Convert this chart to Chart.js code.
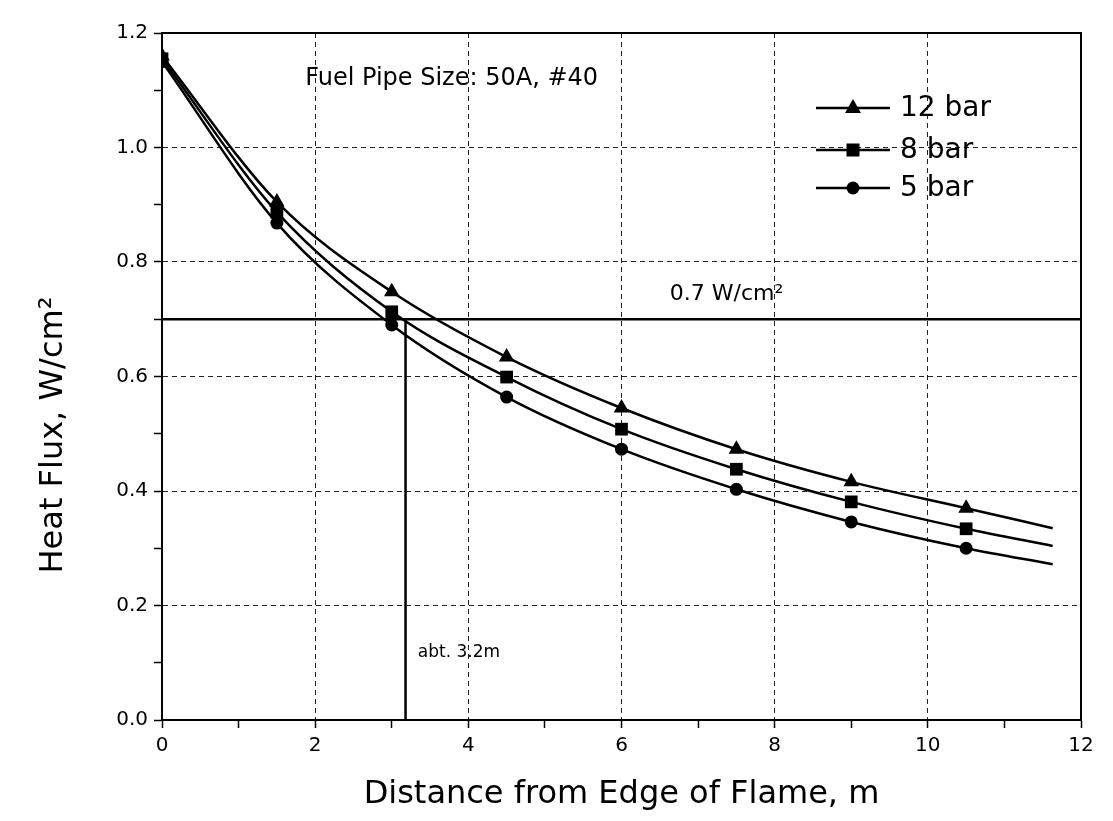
<!DOCTYPE html>
<html>
<head>
<meta charset="utf-8">
<script src="https://cdn.jsdelivr.net/npm/chart.js@4/dist/chart.umd.min.js"></script>
<style>
  html, body { margin: 0; padding: 0; background: #fff; }
  #wrap { width: 1113px; height: 821px; position: relative; }
</style>
</head>
<body>
<div id="wrap"><canvas id="chart"></canvas></div>
<script>
// distances along the flame axis (m); last entry is where the fitted curves end
const distances = [0, 1.5, 3, 4.5, 6, 7.5, 9, 10.5, 11.63];
const flux12bar = [1.16, 0.905, 0.748, 0.634, 0.545, 0.473, 0.416, 0.370, 0.335];
const flux8bar  = [1.155, 0.887, 0.713, 0.599, 0.508, 0.438, 0.381, 0.334, 0.304];
const flux5bar  = [1.15, 0.868, 0.690, 0.564, 0.473, 0.403, 0.346, 0.300, 0.272];
const seriesLabels = ['12 bar', '8 bar', '5 bar'];

const limitFlux = 0.7;      // W/cm2 threshold
const limitDistance = 3.18; // where 5 bar curve crosses it
const xTicks = [0, 2, 4, 6, 8, 10, 12];
const yTicks = [0.0, 0.2, 0.4, 0.6, 0.8, 1.0, 1.2];

const FONT = '"DejaVu Sans", Arial, sans-serif';

function toPoints(xs, ys) {
  return xs.map((x, i) => ({ x: x, y: ys[i] }));
}
// no marker on the curve's end point
function radii(r) {
  return distances.map((d, i) => i === distances.length - 1 ? 0 : r);
}

const ctx = document.getElementById('chart').getContext('2d');

const curve = {
  borderColor: '#000',
  backgroundColor: '#000',
  borderWidth: 2.5,
  pointBorderWidth: 0,
  cubicInterpolationMode: 'monotone',
  fill: false
};

// frame, annotations, y title and legend drawn on the canvas
const extras = {
  id: 'extras',
  afterDraw(chart) {
    const c = chart.ctx;
    const xs = chart.scales.x, ys = chart.scales.y;
    const area = chart.chartArea;
    c.save();
    c.strokeStyle = '#000';
    c.lineWidth = 2;
    c.strokeRect(area.left, area.top, area.right - area.left, area.bottom - area.top);

    c.fillStyle = '#000';
    c.textBaseline = 'alphabetic';
    c.textAlign = 'left';
    c.font = '24px ' + FONT;
    c.fillText('Fuel Pipe Size: 50A, #40', xs.getPixelForValue(1.87), ys.getPixelForValue(1.109));

    c.font = '22px ' + FONT;
    c.fillText('0.7 W/cm\u00B2', xs.getPixelForValue(6.63), ys.getPixelForValue(0.733));

    c.font = '17px ' + FONT;
    c.fillText('abt. 3.2m', xs.getPixelForValue(3.34), ys.getPixelForValue(0.11));

    // y axis title
    c.save();
    c.translate(54, 435);
    c.rotate(-Math.PI / 2);
    c.font = '32px ' + FONT;
    c.textAlign = 'center';
    c.textBaseline = 'middle';
    c.fillText('Heat Flux, W/cm\u00B2', 0, 0);
    c.restore();

    // legend
    const lx0 = area.left + 654, lx1 = area.left + 728;
    const rows = [area.top + 75, area.top + 117, area.top + 155];
    const styles = ['triangle', 'rect', 'circle'];
    c.font = '28px ' + FONT;
    c.textBaseline = 'middle';
    rows.forEach((y, i) => {
      c.beginPath();
      c.lineWidth = 2.5;
      c.moveTo(lx0, y);
      c.lineTo(lx1, y);
      c.stroke();
      const mx = (lx0 + lx1) / 2;
      c.beginPath();
      if (styles[i] === 'triangle') {
        c.moveTo(mx, y - 9);
        c.lineTo(mx + 8, y + 5);
        c.lineTo(mx - 8, y + 5);
        c.closePath();
      } else if (styles[i] === 'rect') {
        c.rect(mx - 6.5, y - 6.5, 13, 13);
      } else {
        c.arc(mx, y, 6.5, 0, Math.PI * 2);
      }
      c.fill();
      c.fillText(seriesLabels[i], lx1 + 10, y + 1);
    });
    c.restore();
  }
};

new Chart(ctx, {
  type: 'line',
  data: {
    datasets: [
      { ...curve, label: seriesLabels[0], data: toPoints(distances, flux12bar), pointStyle: 'triangle', pointRadius: radii(9) },
      { ...curve, label: seriesLabels[1], data: toPoints(distances, flux8bar), pointStyle: 'rect', pointRadius: radii(9) },
      { ...curve, label: seriesLabels[2], data: toPoints(distances, flux5bar), pointStyle: 'circle', pointRadius: radii(6.5) },
      { label: 'limit', data: [{ x: 0, y: limitFlux }, { x: 12, y: limitFlux }], borderColor: '#000', borderWidth: 2.5, pointRadius: 0 },
      { label: 'distance', data: [{ x: limitDistance, y: 0 }, { x: limitDistance, y: limitFlux }], borderColor: '#000', borderWidth: 2.5, pointRadius: 0 }
    ]
  },
  options: {
    responsive: true,
    maintainAspectRatio: false,
    animation: false,
    layout: { padding: { top: 33, right: 32, left: 0, bottom: 0 } },
    plugins: {
      legend: { display: false },
      tooltip: { enabled: false }
    },
    scales: {
      x: {
        type: 'linear',
        min: 0,
        max: 12,
        afterFit(scale) { scale.height = 101; },
        afterBuildTicks(scale) {
          scale.ticks = [];
          for (let v = 0; v <= 12; v++) scale.ticks.push({ value: v });
        },
        ticks: {
          color: '#000',
          font: { family: FONT, size: 20 },
          padding: 6,
          maxRotation: 0,
          autoSkip: false,
          callback: (v) => xTicks.includes(v) ? String(v) : ''
        },
        grid: {
          color: (c) => (c.tick && xTicks.includes(c.tick.value) && c.tick.value > 0 && c.tick.value < 12) ? '#222' : 'transparent',
          lineWidth: 1,
          tickColor: '#000',
          tickLength: 8,
          tickWidth: 1.5
        },
        border: { color: '#000', width: 2, dash: [5, 4] },
        title: {
          display: true,
          text: 'Distance from Edge of Flame, m',
          color: '#000',
          font: { family: FONT, size: 32 },
          padding: { top: 0, bottom: 7 }
        }
      },
      y: {
        type: 'linear',
        min: 0,
        max: 1.2,
        afterFit(scale) { scale.width = 162; },
        afterBuildTicks(scale) {
          scale.ticks = [];
          for (let k = 0; k <= 12; k++) scale.ticks.push({ value: k / 10 });
        },
        ticks: {
          color: '#000',
          font: { family: FONT, size: 20 },
          padding: 6,
          autoSkip: false,
          callback: (v) => Math.round(v * 10) % 2 === 0 ? v.toFixed(1) : ''
        },
        grid: {
          color: (c) => {
            if (!c.tick) return 'transparent';
            const k = Math.round(c.tick.value * 10);
            return (k % 2 === 0 && k > 0 && k < 12) ? '#222' : 'transparent';
          },
          lineWidth: 1,
          tickColor: '#000',
          tickLength: 8,
          tickWidth: 1.5
        },
        border: { color: '#000', width: 2, dash: [5, 4] },
        title: { display: false }
      }
    }
  },
  plugins: [extras]
});
</script>
</body>
</html>
